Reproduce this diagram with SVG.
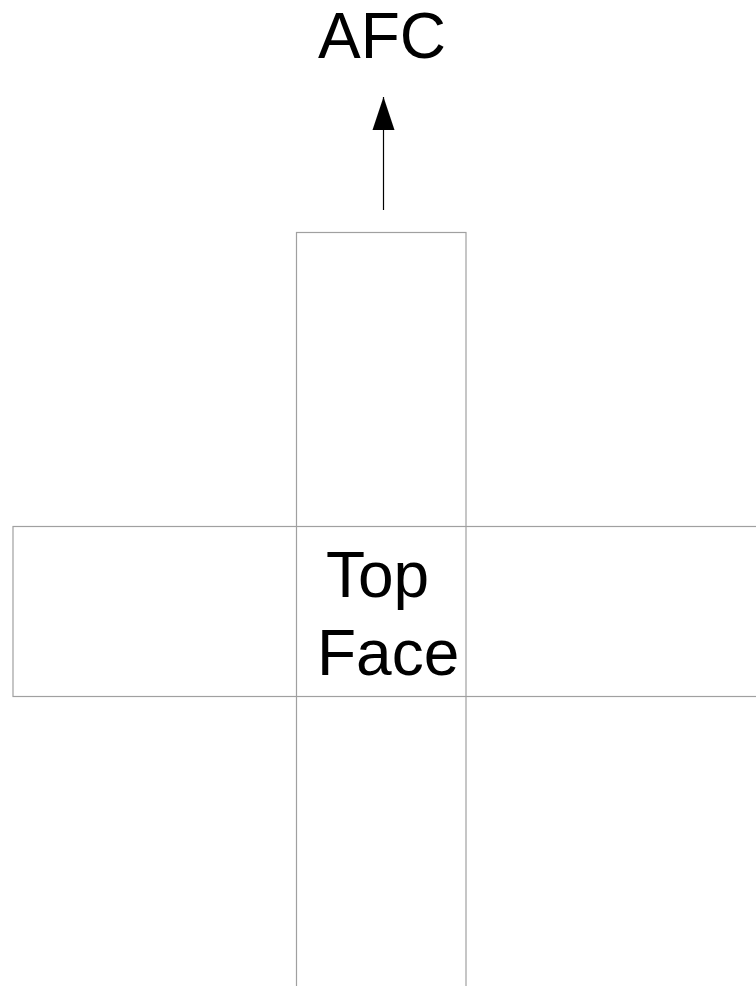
<svg xmlns="http://www.w3.org/2000/svg" width="756" height="986" viewBox="0 0 756 986">
<style>
.face{fill:none;stroke:#a0a0a0;stroke-width:1.2}
.lbl{font-family:"Liberation Sans",Arial,sans-serif;font-size:64px;fill:#000}
</style>
<defs>
<marker id="ah" markerUnits="userSpaceOnUse" markerWidth="34" markerHeight="24" refX="33" refY="11" orient="auto" viewBox="0 0 34 22">
<path d="M0,0 L33,11 L0,22 Z" fill="#000"/>
</marker>
</defs>
<rect width="756" height="986" fill="#fff"/>
<g id="horizontal-strip"><rect class="face" x="13" y="526.5" width="760" height="170"/></g>
<g id="vertical-strip"><rect class="face" x="296.5" y="232.5" width="169.5" height="780"/></g>
<g id="top-face-label"><text class="lbl" x="326" y="597">Top</text><text class="lbl" x="317" y="675">Face</text></g>
<g id="afc-label"><text class="lbl" x="318" y="58">AFC</text></g>
<g id="connectors"><line x1="383.5" y1="210" x2="383.5" y2="97" stroke="#000" stroke-width="1.2" marker-end="url(#ah)"/></g>
</svg>
